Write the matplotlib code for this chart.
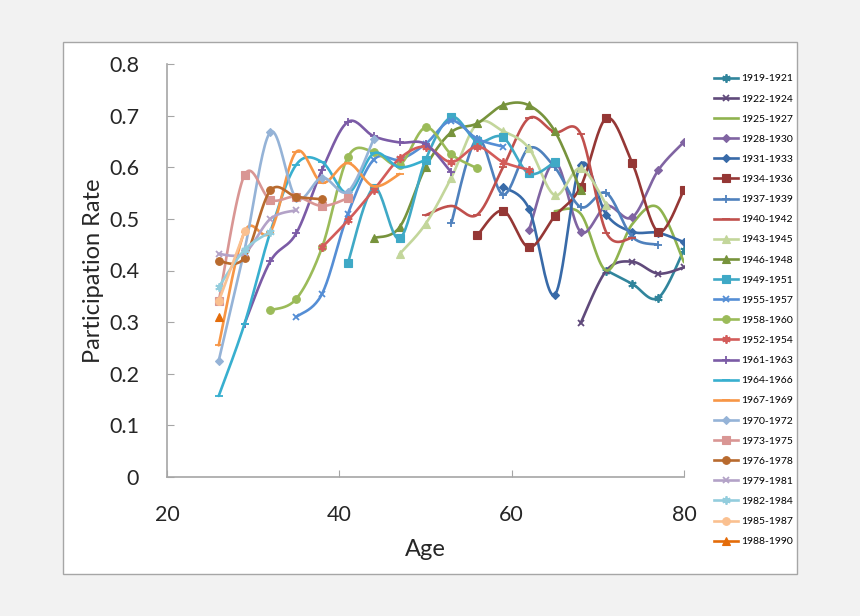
import numpy as np
import matplotlib
matplotlib.use('Agg')
import matplotlib.pyplot as plt
from matplotlib.lines import Line2D
from matplotlib.patches import Rectangle

plt.rcParams['font.family'] = ['Lato', 'DejaVu Sans']

# cohort labels (legend order) and the first age at which each cohort is observed
cohorts = ['1919-1921', '1922-1924', '1925-1927', '1928-1930', '1931-1933',
           '1934-1936', '1937-1939', '1940-1942', '1943-1945', '1946-1948',
           '1949-1951', '1955-1957', '1958-1960', '1952-1954', '1961-1963',
           '1964-1966', '1967-1969', '1970-1972', '1973-1975', '1976-1978',
           '1979-1981', '1982-1984', '1985-1987', '1988-1990']
first_age = [71, 68, 65, 62, 59, 56, 53, 50, 47, 44, 41, 35, 32, 38, 29,
             26, 26, 26, 26, 26, 26, 26, 26, 26]

# participation rate, every 3 years of age from first_age
r1919 = [0.40, 0.374, 0.347, 0.44]
r1922 = [0.298, 0.40, 0.417, 0.394, 0.406]
r1925 = [0.515, 0.51, 0.40, 0.49, 0.522, 0.416]
r1928 = [0.478, 0.61, 0.475, 0.525, 0.503, 0.594, 0.649]
r1931 = [0.562, 0.52, 0.353, 0.605, 0.508, 0.475, 0.473, 0.455]
r1934 = [0.468, 0.516, 0.445, 0.505, 0.562, 0.695, 0.608, 0.475, 0.556]
r1937 = [0.492, 0.655, 0.547, 0.637, 0.60, 0.523, 0.55, 0.465, 0.45]
r1940 = [0.507, 0.525, 0.508, 0.60, 0.695, 0.668, 0.665, 0.473, 0.463]
r1943 = [0.432, 0.49, 0.58, 0.685, 0.67, 0.637, 0.546, 0.598, 0.527]
r1946 = [0.463, 0.484, 0.60, 0.668, 0.685, 0.72, 0.72, 0.67, 0.555]
r1949 = [0.415, 0.56, 0.462, 0.614, 0.697, 0.65, 0.658, 0.588, 0.61]
r1955 = [0.31, 0.355, 0.51, 0.615, 0.615, 0.645, 0.69, 0.655, 0.64]
r1958 = [0.323, 0.345, 0.445, 0.62, 0.63, 0.605, 0.677, 0.625, 0.598]
r1952 = [0.445, 0.497, 0.556, 0.617, 0.64, 0.61, 0.64, 0.61, 0.595]
r1961 = [0.297, 0.418, 0.472, 0.595, 0.688, 0.66, 0.648, 0.645, 0.59]
r1964 = [0.157, 0.297, 0.475, 0.605, 0.61, 0.55, 0.627, 0.60, 0.614]
r1967 = [0.255, 0.475, 0.475, 0.63, 0.57, 0.608, 0.563, 0.587]
r1970 = [0.225, 0.44, 0.668, 0.54, 0.58, 0.553, 0.655]
r1973 = [0.34, 0.585, 0.537, 0.543, 0.525, 0.54]
r1976 = [0.418, 0.425, 0.555, 0.543, 0.538]
r1979 = [0.432, 0.434, 0.50, 0.517]
r1982 = [0.368, 0.44, 0.475]
r1985 = [0.34, 0.476]
r1988 = [0.31]

rates = [r1919, r1922, r1925, r1928, r1931, r1934, r1937, r1940, r1943, r1946,
         r1949, r1955, r1958, r1952, r1961, r1964, r1967, r1970, r1973, r1976,
         r1979, r1982, r1985, r1988]

colors = ['#31859C', '#604A7B', '#8FB34F', '#8064A2', '#386AA8', '#953735',
          '#4F81BD', '#C0504D', '#C3D69B', '#77933C', '#3FA9C6', '#558ED5',
          '#9BBB59', '#D35C5A', '#7B5BA6', '#38AFCF', '#F79646', '#95B3D7',
          '#D99694', '#B86A2E', '#B3A2C7', '#93CDDD', '#FAC090', '#E46C0A']
ast = (6, 2, 0)
markers = [ast, 'x', None, 'D', 'D', 's', '+', '_', '^', '^', 's', 'x', 'o',
           ast, '+', '_', '_', 'D', 's', 'o', 'x', ast, 'o', '^']
msizes = {'D': 4.5, 's': 5.5, 'o': 5.5, '^': 5.5, 'x': 5, '+': 6, '_': 6}


def smooth(x, y, n=24):
    # Excel style smoothed line: Bezier segments with Catmull-Rom handles
    pts = np.column_stack([x, y]).astype(float)
    m = len(pts)
    if m < 2:
        return pts[:, 0], pts[:, 1]
    t = np.linspace(0, 1, n)[:, None]
    out = []
    for i in range(m - 1):
        p0 = pts[max(i - 1, 0)]
        p1 = pts[i]
        p2 = pts[i + 1]
        p3 = pts[min(i + 2, m - 1)]
        c1 = p1 + (p2 - p0) / 6
        c2 = p2 - (p3 - p1) / 6
        seg = ((1 - t) ** 3 * p1 + 3 * (1 - t) ** 2 * t * c1
               + 3 * (1 - t) * t ** 2 * c2 + t ** 3 * p2)
        out.append(seg if i == 0 else seg[1:])
    out = np.vstack(out)
    return out[:, 0], out[:, 1]


fig = plt.figure(figsize=(8.6, 6.16), dpi=100, facecolor='#f2f2f2')
frame = Rectangle((63 / 860, 1 - 574 / 616), 734 / 860, 532 / 616,
                  transform=fig.transFigure, facecolor='white',
                  edgecolor='#a6a6a6', linewidth=1, zorder=-10)
fig.add_artist(frame)
ax = fig.add_axes([167 / 860, 1 - 477 / 616, 517 / 860, 413 / 616])
ax.set_facecolor('none')
ax.set_zorder(1)

handles = []
for lab, a0, vals, col, mk in zip(cohorts, first_age, rates, colors, markers):
    ages = a0 + 3 * np.arange(len(vals))
    sx, sy = smooth(ages, vals)
    ax.plot(sx, sy, color=col, lw=1.9, solid_capstyle='round')
    ms = msizes.get(mk, 6) if mk is not None else 0
    mew = 1.3 if mk in ('x', '+', '_', ast) else 0.8
    if mk is not None:
        ax.plot(ages, vals, linestyle='none', marker=mk, color=col,
                markersize=ms, markeredgewidth=mew)
    handles.append(Line2D([], [], color=col, lw=1.9, marker=mk,
                          markersize=ms, markeredgewidth=mew, label=lab))

ax.set_xlim(20, 80)
ax.set_ylim(0, 0.8)
ax.set_xticks([20, 40, 60, 80])
ax.set_yticks(np.arange(0, 0.81, 0.1))
ax.set_yticklabels(['0'] + ['%.1f' % v for v in np.arange(0.1, 0.81, 0.1)])
for s in ['top', 'right']:
    ax.spines[s].set_visible(False)
for s in ['left', 'bottom']:
    ax.spines[s].set_color('#a6a6a6')
    ax.spines[s].set_linewidth(1.2)
ax.tick_params(axis='both', direction='in', length=5, color='#a6a6a6',
               labelsize=15.5, labelcolor='#262626')
ax.tick_params(axis='y', pad=20)
ax.tick_params(axis='x', pad=20)
ax.set_xlabel('Age', fontsize=17, color='#262626', labelpad=10)
ax.set_ylabel('Participation Rate', fontsize=17, color='#262626', labelpad=4)

fig.legend(handles=handles, loc='upper left',
           bbox_to_anchor=(710 / 860, 1 - 70 / 616), frameon=False,
           fontsize=7.5, labelspacing=1.04, handlelength=2.3,
           handletextpad=0.3, borderaxespad=0)

fig.savefig('out.png', dpi=100, facecolor=fig.get_facecolor())
